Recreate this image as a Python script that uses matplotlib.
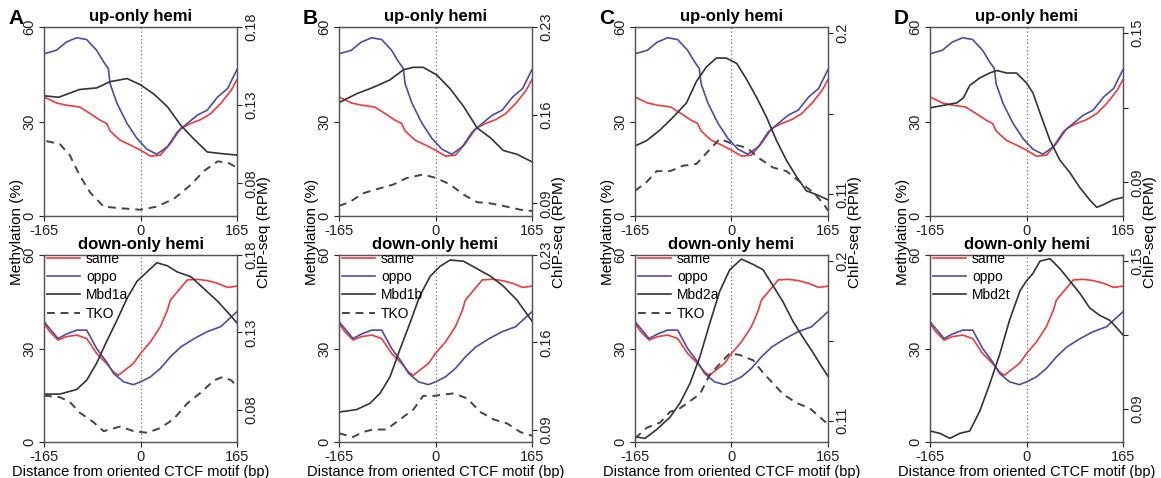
import matplotlib.pyplot as plt
from matplotlib.lines import Line2D

plt.rcParams['font.family'] = ['Liberation Sans', 'DejaVu Sans']
plt.rcParams['axes.unicode_minus'] = False

RED = '#ee3b3b'
BLUE = '#4b4ba8'
DARK = '#333333'
DASH = '#444444'

# methylation profiles (%), same in every panel
up_same_x = [-165, -144, -127, -104, -86, -69, -58, -52, -35, -17, 0, 17, 34, 51, 69, 86, 103, 120, 137, 155, 165]
up_same = [37.8, 35.9, 35.2, 34.6, 32.5, 30.4, 29.4, 27.0, 24.1, 22.5, 20.9, 19.0, 19.3, 23.0, 27.8, 29.4, 30.6, 32.5, 35.7, 39.9, 43.3]
up_oppo_x = [-165, -144, -127, -109, -92, -75, -63, -55, -52, -40, -23, -6, 11, 28, 46, 63, 80, 97, 114, 132, 149, 165]
up_oppo = [51.5, 52.6, 55.2, 56.6, 56.0, 52.6, 48.9, 46.8, 42.0, 35.7, 29.4, 24.6, 21.2, 19.6, 22.0, 26.7, 29.4, 32.0, 33.6, 37.8, 40.5, 46.5]
down_same_x = [-165, -155, -141, -127, -109, -92, -75, -58, -46, -38, -23, -12, 0, 17, 34, 46, 51, 63, 80, 97, 114, 132, 149, 165]
down_same = [38.0, 35.4, 32.7, 33.8, 34.3, 33.2, 28.4, 25.2, 22.5, 21.4, 23.6, 25.2, 28.4, 32.1, 37.0, 42.3, 45.5, 48.2, 52.0, 52.2, 51.8, 50.9, 49.6, 50.0]
down_oppo_x = [-165, -141, -127, -109, -92, -75, -58, -46, -29, -12, 0, 17, 34, 51, 69, 92, 114, 137, 165]
down_oppo = [38.6, 33.2, 34.6, 35.9, 35.9, 30.0, 25.7, 22.0, 19.3, 18.4, 19.3, 20.9, 23.6, 27.3, 30.5, 33.2, 35.4, 37.0, 41.8]

# ChIP-seq profiles (RPM)
a_up_x = [-165, -140, -104, -75, -52, -23, 0, 23, 46, 69, 92, 114, 137, 165]
a_up = [0.136, 0.135, 0.140, 0.141, 0.145, 0.147, 0.143, 0.137, 0.129, 0.117, 0.108, 0.100, 0.099, 0.098]
a_up_tko_x = [-161, -138, -121, -104, -86, -63, -35, 0, 28, 57, 86, 109, 132, 150, 165]
a_up_tko = [0.107, 0.105, 0.098, 0.085, 0.074, 0.065, 0.064, 0.063, 0.065, 0.070, 0.079, 0.088, 0.094, 0.093, 0.090]
a_dn_x = [-165, -138, -109, -92, -75, -58, -40, -23, -6, 11, 28, 46, 63, 86, 109, 132, 149, 165]
a_dn = [0.090, 0.090, 0.093, 0.099, 0.110, 0.124, 0.138, 0.152, 0.163, 0.169, 0.175, 0.173, 0.169, 0.166, 0.158, 0.150, 0.143, 0.136]
a_dn_tko_x = [-165, -138, -121, -104, -81, -63, -35, -12, 11, 34, 57, 80, 103, 126, 140, 155, 165]
a_dn_tko = [0.089, 0.088, 0.085, 0.078, 0.072, 0.066, 0.069, 0.066, 0.065, 0.068, 0.074, 0.084, 0.091, 0.099, 0.101, 0.099, 0.095]

b_up_x = [-165, -135, -107, -78, -55, -38, -21, 2, 25, 48, 71, 94, 116, 139, 165]
b_up = [0.170, 0.177, 0.182, 0.188, 0.196, 0.198, 0.198, 0.192, 0.181, 0.167, 0.150, 0.142, 0.132, 0.129, 0.123]
b_up_tko_x = [-165, -147, -124, -95, -72, -50, -21, 2, 25, 48, 71, 94, 116, 145, 165]
b_up_tko = [0.088, 0.091, 0.098, 0.102, 0.105, 0.110, 0.113, 0.110, 0.105, 0.097, 0.091, 0.090, 0.088, 0.085, 0.084]
b_dn_x = [-165, -135, -112, -95, -78, -61, -44, -27, -9, 8, 25, 48, 71, 94, 116, 139, 165]
b_dn = [0.104, 0.106, 0.111, 0.119, 0.132, 0.154, 0.175, 0.197, 0.213, 0.221, 0.226, 0.225, 0.219, 0.213, 0.205, 0.194, 0.177]
b_dn_tko_x = [-165, -141, -124, -107, -84, -61, -38, -21, -3, 14, 31, 54, 77, 100, 122, 145, 165]
b_dn_tko = [0.087, 0.084, 0.088, 0.090, 0.090, 0.098, 0.106, 0.117, 0.117, 0.118, 0.119, 0.115, 0.104, 0.098, 0.095, 0.088, 0.085]

c_up_x = [-165, -145, -122, -100, -77, -60, -43, -26, -9, 9, 26, 43, 60, 77, 94, 111, 128, 145, 165]
c_up = [0.137, 0.140, 0.146, 0.153, 0.161, 0.173, 0.181, 0.186, 0.186, 0.183, 0.174, 0.164, 0.153, 0.140, 0.129, 0.120, 0.112, 0.110, 0.107]
c_up_tko_x = [-165, -145, -128, -105, -83, -60, -43, -20, 3, 26, 48, 71, 94, 117, 140, 157, 165]
c_up_tko = [0.112, 0.117, 0.123, 0.123, 0.126, 0.127, 0.133, 0.141, 0.138, 0.136, 0.130, 0.125, 0.123, 0.117, 0.111, 0.105, 0.101]
c_dn_x = [-165, -148, -128, -105, -88, -71, -54, -37, -20, -3, 17, 37, 54, 71, 88, 105, 122, 140, 157, 165]
c_dn = [0.101, 0.100, 0.105, 0.112, 0.120, 0.131, 0.146, 0.165, 0.183, 0.195, 0.201, 0.198, 0.195, 0.186, 0.177, 0.166, 0.157, 0.148, 0.139, 0.135]
c_dn_tko_x = [-165, -145, -122, -105, -88, -71, -54, -37, -20, -3, 14, 37, 54, 71, 88, 111, 134, 151, 165]
c_dn_tko = [0.100, 0.106, 0.109, 0.115, 0.117, 0.121, 0.125, 0.136, 0.142, 0.148, 0.147, 0.144, 0.137, 0.131, 0.125, 0.120, 0.117, 0.112, 0.108]

d_up_x = [-165, -142, -119, -108, -97, -80, -63, -51, -34, -17, 0, 11, 23, 40, 57, 74, 91, 108, 120, 131, 148, 165]
d_up = [0.120, 0.121, 0.122, 0.124, 0.129, 0.132, 0.134, 0.135, 0.134, 0.134, 0.130, 0.126, 0.118, 0.107, 0.099, 0.094, 0.088, 0.083, 0.080, 0.081, 0.083, 0.084]
d_dn_x = [-165, -148, -131, -114, -97, -80, -63, -46, -29, -11, 0, 11, 23, 40, 57, 74, 91, 108, 125, 142, 154, 165]
d_dn = [0.081, 0.080, 0.078, 0.080, 0.081, 0.089, 0.100, 0.112, 0.126, 0.138, 0.142, 0.145, 0.150, 0.151, 0.147, 0.142, 0.137, 0.131, 0.128, 0.126, 0.123, 0.120]

letters = ['A', 'B', 'C', 'D']
proteins = ['Mbd1a', 'Mbd1b', 'Mbd2a', 'Mbd2t']
chip_lims = [(0.059, 0.18), (0.08, 0.23), (0.098, 0.2033), (0.0765, 0.1525)]
chip_ticks = [[0.08, 0.13, 0.18], [0.09, 0.16, 0.23], [0.11, 0.155, 0.2], [0.09, 0.12, 0.15]]
chip_ticklabels = [['0.08', '0.13', '0.18'], ['0.09', '0.16', '0.23'], ['0.11', '', '0.2'], ['0.09', '', '0.15']]
chip_up = [(a_up_x, a_up), (b_up_x, b_up), (c_up_x, c_up), (d_up_x, d_up)]
chip_dn = [(a_dn_x, a_dn), (b_dn_x, b_dn), (c_dn_x, c_dn), (d_dn_x, d_dn)]
tko_up = [(a_up_tko_x, a_up_tko), (b_up_tko_x, b_up_tko), (c_up_tko_x, c_up_tko), None]
tko_dn = [(a_dn_tko_x, a_dn_tko), (b_dn_tko_x, b_dn_tko), (c_dn_tko_x, c_dn_tko), None]

W, H = 1161, 478
LEFTS = [44, 339, 635, 930]
AX_W = 193


def rect(left, top, width, height):
    return [left / W, 1 - (top + height) / H, width / W, height / H]


def style_axes(ax, ax2, ticks, ticklabels, lims):
    ax.set_xlim(-165, 165)
    ax.set_ylim(0, 60)
    ax.set_xticks([-165, 0, 165])
    ax.set_yticks([0, 30, 60])
    ax.set_yticklabels(['0', '30', '60'], rotation=90, va='center')
    ax.tick_params(length=3.5, width=0.8, labelsize=10.5, pad=2, colors='#222222')
    ax2.set_ylim(*lims)
    ax2.set_yticks(ticks)
    ax2.set_yticklabels(ticklabels, rotation=90, va='center')
    ax2.tick_params(length=3.5, width=0.8, labelsize=10.5, pad=2, colors='#222222')
    for a in (ax, ax2):
        for sp in a.spines.values():
            sp.set_color('#555555')
            sp.set_linewidth(0.9)
    ax.axvline(0, color='#777777', lw=0.9, ls=(0, (1, 2)))


fig = plt.figure(figsize=(W / 100, H / 100), dpi=100)

for i in range(4):
    left = LEFTS[i]

    # top: up-only hemi
    ax = fig.add_axes(rect(left, 27, AX_W, 189))
    ax2 = ax.twinx()
    style_axes(ax, ax2, chip_ticks[i], chip_ticklabels[i], chip_lims[i])
    ax.plot(up_same_x, up_same, color=RED, lw=1.2)
    ax.plot(up_oppo_x, up_oppo, color=BLUE, lw=1.2)
    ax2.plot(*chip_up[i], color=DARK, lw=1.2)
    if tko_up[i] is not None:
        ax2.plot(*tko_up[i], color=DASH, lw=1.4, ls=(0, (4, 3)))
    ax.set_title('up-only hemi', fontsize=12, fontweight='bold', pad=4)

    # bottom: down-only hemi
    bx = fig.add_axes(rect(left, 255, AX_W, 187))
    bx2 = bx.twinx()
    style_axes(bx, bx2, chip_ticks[i], chip_ticklabels[i], chip_lims[i])
    bx.plot(down_same_x, down_same, color=RED, lw=1.2)
    bx.plot(down_oppo_x, down_oppo, color=BLUE, lw=1.2)
    bx2.plot(*chip_dn[i], color=DARK, lw=1.2)
    if tko_dn[i] is not None:
        bx2.plot(*tko_dn[i], color=DASH, lw=1.4, ls=(0, (4, 3)))
    bx.set_title('down-only hemi', fontsize=12, fontweight='bold', pad=4)

    handles = [Line2D([], [], color=RED, lw=1.2),
               Line2D([], [], color=BLUE, lw=1.2),
               Line2D([], [], color=DARK, lw=1.2)]
    labels = ['same', 'oppo', proteins[i]]
    if tko_dn[i] is not None:
        handles.append(Line2D([], [], color=DASH, lw=1.4, ls=(0, (4, 3))))
        labels.append('TKO')
    bx2.legend(handles, labels, loc='upper left', bbox_to_anchor=(3 / AX_W, 1 + 3 / 187),
               frameon=False, fontsize=10, handlelength=2.4, handletextpad=0.4,
               labelspacing=0.3, borderpad=0, borderaxespad=0)

    bx.set_xlabel('Distance from oriented CTCF motif (bp)', fontsize=10.5, labelpad=1)

    fig.text((left - 27) / W, 1 - 232 / H, 'Methylation (%)', rotation=90,
             ha='center', va='center', fontsize=11)
    fig.text((left + AX_W + 27) / W, 1 - 232 / H, 'ChIP-seq (RPM)', rotation=90,
             ha='center', va='center', fontsize=11)
    fig.text((left - 36) / W, 1 - 18 / H, letters[i], fontsize=15, fontweight='bold',
             ha='left', va='center')

fig.savefig('out.png', dpi=100)
